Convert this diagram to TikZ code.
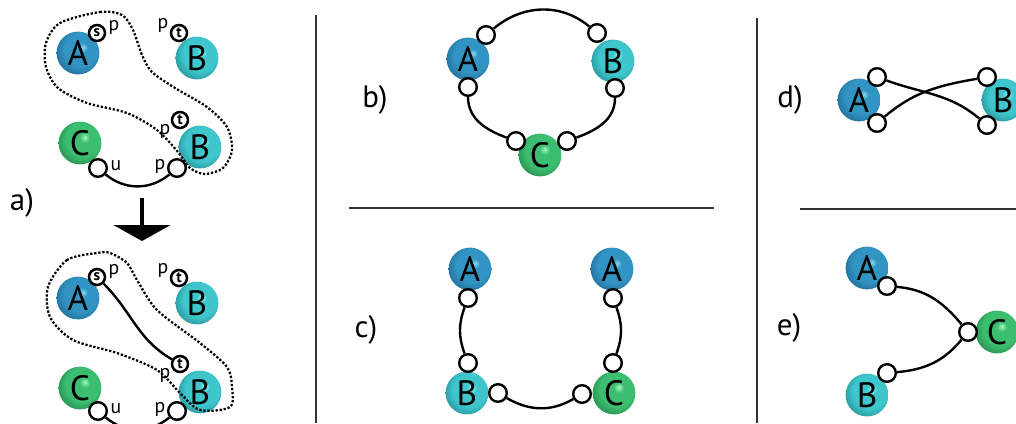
\documentclass[tikz,border=0pt]{standalone}
\usepackage{fontspec}
\setmainfont{PT Sans}
\usetikzlibrary{arrows.meta}

\definecolor{aLight}{RGB}{130,215,245}
\definecolor{aMid}{RGB}{50,148,194}
\definecolor{aDark}{RGB}{32,104,148}
\definecolor{bLight}{RGB}{150,250,250}
\definecolor{bMid}{RGB}{62,198,204}
\definecolor{bDark}{RGB}{38,142,150}
\definecolor{cLight}{RGB}{160,250,190}
\definecolor{cMid}{RGB}{60,190,112}
\definecolor{cDark}{RGB}{36,136,76}

\pgfdeclareradialshading{ballA}{\pgfqpoint{6bp}{7bp}}{color(0bp)=(aLight); color(6bp)=(aMid); color(20bp)=(aMid); color(32bp)=(aDark); color(50bp)=(aDark)}
\pgfdeclareradialshading{ballB}{\pgfqpoint{6bp}{7bp}}{color(0bp)=(bLight); color(6bp)=(bMid); color(20bp)=(bMid); color(32bp)=(bDark); color(50bp)=(bDark)}
\pgfdeclareradialshading{ballC}{\pgfqpoint{6bp}{7bp}}{color(0bp)=(cLight); color(6bp)=(cMid); color(20bp)=(cMid); color(32bp)=(cDark); color(50bp)=(cDark)}

\begin{document}
\begin{tikzpicture}[x=0.025cm, y=0.025cm,
  sphere/.style={circle, inner sep=0pt, minimum size=1.07cm, font=\fontsize{25}{25}\selectfont},
  molA/.style={sphere, shading=ballA},
  molB/.style={sphere, shading=ballB},
  molC/.style={sphere, shading=ballC},
  port/.style={circle, draw, fill=white, line width=1.7pt, inner sep=0pt, minimum size=0.44cm},
  sport/.style={port, minimum size=0.4cm, line width=1.8pt, font=\bfseries\fontsize{11}{11}\selectfont},
  plab/.style={inner sep=0pt, font=\fontsize{14}{14}\selectfont},
  link/.style={line width=1.7pt},
  panel/.style={inner sep=0pt, font=\fontsize{22}{22}\selectfont},
  sep/.style={line width=0.8pt, black!80},
  hull/.style={line width=1.6pt, dash pattern=on 1.6pt off 1.3pt}]
  \useasboundingbox (0,0) rectangle (1016,-423);

  % separators
  \draw[sep] (316,-15) -- (316,-423);
  \draw[sep] (757,-18) -- (757,-423);
  \draw[sep] (349,-208) -- (714,-208);
  \draw[sep] (800,-209) -- (1016,-209);

  % a) before
  \node[panel] (la) at (22,-203) {a)};
  \node[molA] (aA1) at (78,-53) {A};
  \node[molB] (aB1) at (197,-58) {B};
  \node[molC] (aC1) at (80,-143) {C};
  \node[molB] (aD1) at (200,-147) {B};
  \node[sport] (as1) at (97,-33) {s};
  \node[plab] (ap1) at (114,-27) {p};
  \node[sport] (at1) at (179,-33) {t};
  \node[plab] (aq1) at (163,-25) {p};
  \node[sport] (au1) at (180,-120) {t};
  \node[plab] (ar1) at (165,-131) {p};
  \node[port] (ax1) at (98,-168) {};
  \node[plab] (ux1) at (116,-166) {u};
  \node[port] (ay1) at (177,-168) {};
  \node[plab] (py1) at (160,-166) {p};
  \draw[link] (ax1) to[out=-40,in=-140] (ay1);
  \draw[hull] plot[smooth cycle] coordinates {(60,-23) (100,-12) (122,-15) (133,-30) (142,-55)
    (152,-72) (175,-88) (207,-107) (227,-127) (232,-150) (223,-168) (205,-174) (190,-168)
    (178,-152) (157,-130) (127,-113) (87,-103) (58,-88) (46,-67) (46,-43)};

  % arrow
  \coordinate (arrtop) at (142,-198);
  \coordinate (arrtip) at (142,-241);
  \draw[line width=2.2pt, -{Triangle[width=1.42cm, length=0.4cm]}] (arrtop) -- (arrtip);

  % a) after
  \node[molA] (aA2) at (78,-298) {A};
  \node[molB] (aB2) at (197,-303) {B};
  \node[molC] (aC2) at (80,-388) {C};
  \node[molB] (aD2) at (200,-392) {B};
  \node[sport] (as2) at (97,-277) {s};
  \node[plab] (ap2) at (114,-271) {p};
  \node[sport] (at2) at (179,-278) {t};
  \node[plab] (aq2) at (163,-270) {p};
  \node[sport] (au2) at (180,-364) {t};
  \node[plab] (ar2) at (165,-375) {p};
  \node[port] (ax2) at (98,-411) {};
  \node[plab] (ux2) at (116,-409) {u};
  \node[port] (ay2) at (177,-411) {};
  \node[plab] (py2) at (160,-409) {p};
  \draw[link] (ax2) to[out=-40,in=-140] (ay2);
  \draw[link] (as2) to[out=-45,in=150] (au2);
  \draw[hull] plot[smooth cycle] coordinates {(97,-253) (67,-260) (48,-287) (50,-317) (73,-340)
    (117,-353) (157,-370) (180,-393) (200,-410) (230,-407) (232,-387) (227,-367) (200,-343)
    (157,-310) (137,-280) (127,-263) (110,-253)};

  % b)
  \node[panel] (lb) at (375,-100) {b)};
  \node[molA] (bA) at (468,-59) {A};
  \node[molB] (bB) at (613,-61) {B};
  \node[molC] (bC) at (540,-155) {C};
  \node[port] (bA1) at (486,-35) {};
  \node[port] (bA2) at (468,-87) {};
  \node[port] (bB1) at (597,-33) {};
  \node[port] (bB2) at (615,-88) {};
  \node[port] (bC1) at (516,-141) {};
  \node[port] (bC2) at (567,-141) {};
  \draw[link] (bA1) to[out=40,in=140] (bB1);
  \draw[link] (bA2) to[out=-90,in=160] (bC1);
  \draw[link] (bB2) to[out=-90,in=20] (bC2);

  % c)
  \node[panel] (lc) at (366,-330) {c)};
  \node[molA] (cA1) at (470,-269) {A};
  \node[molA] (cA2) at (612,-269) {A};
  \node[molB] (cB) at (467,-393) {B};
  \node[molC] (cC) at (614,-393) {C};
  \node[port] (cP1) at (468,-298) {};
  \node[port] (cP2) at (468,-363) {};
  \node[port] (cP3) at (498,-393) {};
  \node[port] (cP4) at (582,-394) {};
  \node[port] (cP5) at (613,-298) {};
  \node[port] (cP6) at (613,-363) {};
  \draw[link] (cP1) to[out=-110,in=110] (cP2);
  \draw[link] (cP5) to[out=-70,in=70] (cP6);
  \draw[link] (cP3) to[out=-30,in=-150] (cP4);

  % d)
  \node[panel] (ld) at (790,-100) {d)};
  \node[molA] (dA) at (859,-100) {A};
  \node[molB] (dB) at (1003,-100) {B};
  \node[port] (dA1) at (877,-77) {};
  \node[port] (dA2) at (877,-123) {};
  \node[port] (dB1) at (987,-77) {};
  \node[port] (dB2) at (987,-125) {};
  \draw[link] (dA1) to[out=-20,in=140] (dB2);
  \draw[link] (dA2) to[out=40,in=-170] (dB1);

  % e)
  \node[panel] (le) at (789,-328) {e)};
  \node[molA] (eA) at (867,-268) {A};
  \node[molB] (eB) at (867,-395) {B};
  \node[molC] (eC) at (997,-332) {C};
  \node[port] (eA1) at (887,-286) {};
  \node[port] (eB1) at (887,-373) {};
  \node[port] (eC1) at (968,-332) {};
  \draw[link] (eA1) to[out=-5,in=130] (eC1);
  \draw[link] (eB1) to[out=5,in=-130] (eC1);
\end{tikzpicture}
\end{document}
